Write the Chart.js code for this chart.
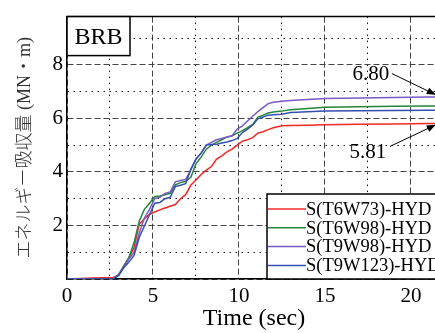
<!DOCTYPE html>
<html>
<head>
<meta charset="utf-8">
<script src="https://cdn.jsdelivr.net/npm/chart.js@4.4.0/dist/chart.umd.min.js"></script>
<style>
html, body { margin: 0; padding: 0; background: #fff; overflow: hidden; }
#wrap { width: 450px; height: 333px; }
</style>
</head>
<body>
<div id="wrap"><canvas id="energyChart" width="450" height="333"></canvas></div>
<script>
// cumulative energy absorbed by BRB
const times  = [0, 1.5, 2.7, 3.0, 3.3, 3.6, 3.9, 4.2, 4.5, 4.8, 5.1, 5.4, 5.7, 6.0, 6.3, 6.6, 6.9, 7.2, 7.5, 7.8, 8.1, 8.4, 8.7, 9.0, 9.3, 9.6, 9.9, 10.2, 10.5, 10.8, 11.1, 11.4, 11.7, 12.0, 12.5, 13.0, 14.0, 15.0, 17.0, 19.0, 21.0, 24.0];
const t6w73  = [0, 0.04, 0.06, 0.15, 0.45, 0.8, 1.17, 2.05, 2.24, 2.42, 2.5, 2.58, 2.65, 2.72, 2.78, 3.0, 3.15, 3.5, 3.7, 3.9, 4.07, 4.2, 4.48, 4.6, 4.75, 4.85, 5.0, 5.15, 5.2, 5.28, 5.45, 5.5, 5.58, 5.65, 5.72, 5.73, 5.74, 5.76, 5.78, 5.79, 5.81, 5.81];
const t6w98  = [0, 0, 0.02, 0.15, 0.5, 0.8, 1.36, 2.16, 2.6, 2.83, 3.08, 3.1, 3.15, 3.2, 3.52, 3.6, 3.65, 3.8, 4.3, 4.55, 4.85, 5.0, 5.1, 5.2, 5.3, 5.35, 5.45, 5.54, 5.65, 5.77, 6.05, 6.12, 6.2, 6.24, 6.27, 6.32, 6.37, 6.41, 6.43, 6.45, 6.46, 6.47];
const t9w98  = [0, 0, 0.02, 0.15, 0.45, 0.75, 1.0, 1.72, 2.28, 2.6, 3.0, 3.05, 3.2, 3.25, 3.63, 3.68, 3.72, 4.07, 4.48, 4.7, 5.0, 5.1, 5.2, 5.25, 5.3, 5.35, 5.6, 5.72, 5.9, 6.08, 6.25, 6.4, 6.55, 6.6, 6.64, 6.67, 6.7, 6.74, 6.76, 6.78, 6.8, 6.8];
const t9w123 = [0, 0, 0.02, 0.12, 0.42, 0.63, 0.88, 1.55, 1.98, 2.4, 2.83, 2.86, 3.0, 3.05, 3.45, 3.5, 3.56, 4.1, 4.48, 4.7, 5.0, 5.02, 5.03, 5.08, 5.12, 5.17, 5.25, 5.47, 5.6, 5.75, 5.98, 6.05, 6.12, 6.13, 6.15, 6.22, 6.25, 6.27, 6.28, 6.29, 6.3, 6.3];
const seriesLabels = ["S(T6W73)-HYD", "S(T6W98)-HYD", "S(T9W98)-HYD", "S(T9W123)-HYD"];
const seriesColors = ["#f02828", "#24863a", "#7a5ac4", "#3450b0"];

// grid positions (majors get a label, the rest are dotted)
const xGrid = [0, 2.5, 5, 7.5, 10, 12.5, 15, 17.5, 20];
const yGrid = [0, 1, 2, 3, 4, 5, 6, 7, 8, 9];

// callouts: [text, text x, text y, arrow start x, arrow start y, tip x, tip y] in data units
const callouts = [
    ["6.80", 17.67, 7.63, 18.9, 7.67, 21.45, 6.88],
    ["5.81", 17.5, 4.73, 18.78, 4.95, 21.45, 5.76]
];

const serif = "'Liberation Serif', 'Times New Roman', serif";

function isMajor(v, step) {
    return Math.abs(v / step - Math.round(v / step)) < 1e-6;
}

// dashed on major ticks, dotted on minor ones
function gridDash(ctx, step) {
    if (!ctx.tick) return [];
    return isMajor(ctx.tick.value, step) ? [6, 3] : [1.5, 4.5];
}
function gridColor(ctx, step) {
    if (!ctx.tick) return "#000";
    return isMajor(ctx.tick.value, step) ? "#444" : "#111";
}

function toPoints(vals) {
    return times.map((t, i) => ({ x: t, y: vals[i] }));
}

// frame top, BRB tag, legend box and the two callouts
const extrasPlugin = {
    id: "extras",
    afterDraw(chart) {
        const ctx = chart.ctx;
        const a = chart.chartArea;
        const xs = chart.scales.x, ys = chart.scales.y;
        ctx.save();
        ctx.setLineDash([]);
        ctx.strokeStyle = "#000";
        ctx.lineWidth = 1.5;
        ctx.beginPath();
        ctx.moveTo(a.left, a.top);
        ctx.lineTo(a.right, a.top);
        ctx.stroke();

        // BRB tag
        ctx.fillStyle = "#fff";
        ctx.fillRect(a.left, a.top, 63, 39);
        ctx.strokeRect(a.left, a.top, 63, 39);
        ctx.fillStyle = "#000";
        ctx.font = "24px " + serif;
        ctx.textAlign = "center";
        ctx.textBaseline = "middle";
        ctx.fillText("BRB", a.left + 31.5, a.top + 21);

        // legend
        const lx = a.left + 200, ly = a.bottom - 85;
        ctx.fillStyle = "#fff";
        ctx.fillRect(lx, ly, 200, 85);
        ctx.strokeRect(lx, ly, 200, 85);
        ctx.font = "18.5px " + serif;
        ctx.textAlign = "left";
        seriesLabels.forEach((lab, i) => {
            const y = ly + 15 + i * 18.8;
            ctx.strokeStyle = seriesColors[i];
            ctx.lineWidth = 1.5;
            ctx.beginPath();
            ctx.moveTo(lx + 1, y);
            ctx.lineTo(lx + 39, y);
            ctx.stroke();
            ctx.fillStyle = "#000";
            ctx.fillText(lab, lx + 39, y + 1);
        });

        // callouts
        ctx.font = "21px " + serif;
        ctx.textAlign = "center";
        callouts.forEach(c => {
            const tx = xs.getPixelForValue(c[1]), ty = ys.getPixelForValue(c[2]);
            const sx = xs.getPixelForValue(c[3]), sy = ys.getPixelForValue(c[4]);
            const ex = xs.getPixelForValue(c[5]), ey = ys.getPixelForValue(c[6]);
            ctx.fillStyle = "#000";
            ctx.fillText(c[0], tx, ty);
            ctx.strokeStyle = "#000";
            ctx.lineWidth = 1;
            ctx.beginPath();
            ctx.moveTo(sx, sy);
            ctx.lineTo(ex, ey);
            ctx.stroke();
            const ang = Math.atan2(ey - sy, ex - sx);
            const hl = 9, hw = 3.5;
            ctx.beginPath();
            ctx.moveTo(ex, ey);
            ctx.lineTo(ex - hl * Math.cos(ang) + hw * Math.sin(ang), ey - hl * Math.sin(ang) - hw * Math.cos(ang));
            ctx.lineTo(ex - hl * Math.cos(ang) - hw * Math.sin(ang), ey - hl * Math.sin(ang) + hw * Math.cos(ang));
            ctx.closePath();
            ctx.fill();
        });
        ctx.restore();
    }
};

const datasets = [t6w73, t6w98, t9w98, t9w123].map((vals, i) => ({
    label: seriesLabels[i],
    data: toPoints(vals),
    borderColor: seriesColors[i],
    borderWidth: 1.5,
    pointRadius: 0,
    fill: false,
    tension: 0,
    order: 3 - i
}));

new Chart(document.getElementById("energyChart").getContext("2d"), {
    type: "line",
    data: { datasets: datasets },
    plugins: [extrasPlugin],
    options: {
        responsive: false,
        animation: false,
        layout: { padding: { top: 12, right: 9, left: 0, bottom: 0 } },
        plugins: {
            legend: { display: false },
            tooltip: { enabled: false }
        },
        scales: {
            x: {
                type: "linear",
                min: 0,
                max: 21.75,
                afterFit: s => { s.height = 54; },
                afterBuildTicks: s => { s.ticks = xGrid.map(v => ({ value: v })); },
                ticks: {
                    autoSkip: false,
                    maxRotation: 0,
                    padding: 5,
                    color: "#000",
                    font: { family: serif, size: 21 },
                    callback: v => isMajor(v, 5) ? v : ""
                },
                grid: { drawTicks: false, lineWidth: 1, color: ctx => gridColor(ctx, 5) },
                border: { display: true, color: "#000", width: 1.5, dash: ctx => gridDash(ctx, 5) },
                title: {
                    display: true,
                    text: "Time (sec)",
                    color: "#000",
                    font: { family: serif, size: 24 },
                    padding: { top: 0, bottom: 0 }
                }
            },
            y: {
                min: 0,
                max: 9.8,
                afterFit: s => { s.width = 67; },
                afterBuildTicks: s => { s.ticks = yGrid.map(v => ({ value: v })); },
                ticks: {
                    autoSkip: false,
                    padding: 4,
                    color: "#000",
                    font: { family: serif, size: 21 },
                    callback: v => (isMajor(v, 2) && v > 0) ? v : ""
                },
                grid: { drawTicks: false, lineWidth: 1, color: ctx => gridColor(ctx, 2) },
                border: { display: true, color: "#000", width: 1.5, dash: ctx => gridDash(ctx, 2) },
                title: {
                    display: true,
                    text: "エネルギー吸収量 (MN・m)",
                    color: "#333",
                    font: { family: "'Liberation Serif', 'Noto Sans CJK JP', serif", size: 18, weight: "300" },
                    padding: { top: 14, bottom: 0 }
                }
            }
        }
    }
});
</script>
</body>
</html>
